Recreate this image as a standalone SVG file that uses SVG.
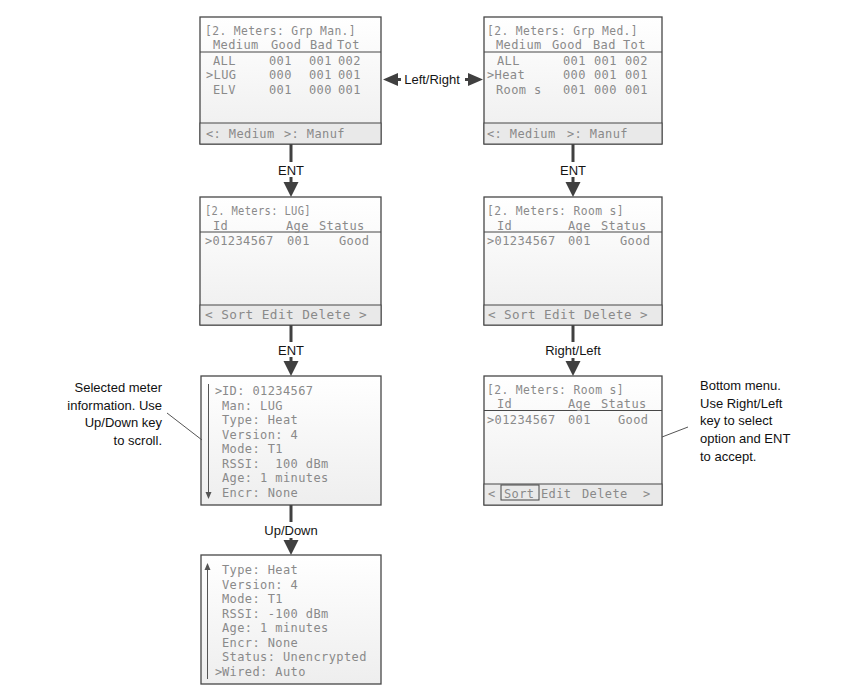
<svg xmlns="http://www.w3.org/2000/svg" width="856" height="697" viewBox="0 0 856 697">
<defs>
<linearGradient id="lcd" x1="0" y1="0" x2="0" y2="1">
<stop offset="0" stop-color="#ffffff"/>
<stop offset="1" stop-color="#eeeeee"/>
</linearGradient>
<style>
.box{fill:url(#lcd);stroke:#474747;stroke-width:1.3}
.bar{fill:#e9e9e9;stroke:#474747;stroke-width:1}
.sep{stroke:#474747;stroke-width:1}
.lcd{font-family:"DejaVu Sans Mono","Liberation Mono",monospace;font-size:12px;letter-spacing:0.4px;fill:#8a8a8a}
.scroll{stroke:#555;stroke-width:1}
.ah{fill:#555}
.conn{stroke:#404040;stroke-width:3;fill:none}
.head{fill:#404040}
.lbl{font-family:"Liberation Sans",Arial,sans-serif;font-size:13px;fill:#141414;text-anchor:middle}
.lblbg{fill:#ffffff}
.note{font-family:"Liberation Sans",Arial,sans-serif;font-size:13px;fill:#111}
.leader{stroke:#555;stroke-width:1}
</style>
</defs>
<rect width="856" height="697" fill="#ffffff"/>

<g id="connectors">
<line class="conn" x1="397" y1="79.5" x2="469" y2="79.5"/>
<polygon class="head" points="383,79.5 398,73 398,86"/>
<polygon class="head" points="483,79.5 468,73 468,86"/>
<rect class="lblbg" x="401" y="71" width="64" height="17"/>
<text class="lbl" x="432" y="84">Left/Right</text>

<line class="conn" x1="291" y1="144" x2="291" y2="184"/>
<polygon class="head" points="291,197 283.5,182 298.5,182"/>
<rect class="lblbg" x="277" y="162" width="28" height="15"/>
<text class="lbl" x="291" y="174.5">ENT</text>

<line class="conn" x1="573" y1="144" x2="573" y2="184"/>
<polygon class="head" points="573,197 565.5,182 580.5,182"/>
<rect class="lblbg" x="559" y="162" width="28" height="15"/>
<text class="lbl" x="573" y="174.5">ENT</text>

<line class="conn" x1="291" y1="325" x2="291" y2="363"/>
<polygon class="head" points="291,376 283.5,361 298.5,361"/>
<rect class="lblbg" x="277" y="342" width="28" height="15"/>
<text class="lbl" x="291" y="355">ENT</text>

<line class="conn" x1="573" y1="325" x2="573" y2="363"/>
<polygon class="head" points="573,376 565.5,361 580.5,361"/>
<rect class="lblbg" x="541" y="342" width="64" height="16"/>
<text class="lbl" x="573" y="355">Right/Left</text>

<line class="conn" x1="291" y1="505" x2="291" y2="542"/>
<polygon class="head" points="291,555 283.5,540 298.5,540"/>
<rect class="lblbg" x="261" y="522" width="60" height="16"/>
<text class="lbl" x="291" y="535">Up/Down</text>
</g>

<g id="screen-grp-man">
<rect class="box" x="200" y="17" width="181" height="127"/>
<rect class="bar" x="200" y="123" width="181" height="21"/>
<line class="sep" x1="200" y1="52" x2="381" y2="52"/>
<text class="lcd" x="205" y="35" textLength="151" lengthAdjust="spacingAndGlyphs">[2. Meters: Grp Man.]</text>
<text class="lcd" y="49"><tspan x="213">Medium</tspan><tspan x="271">Good</tspan><tspan x="310">Bad</tspan><tspan x="337">Tot</tspan></text>
<text class="lcd" y="64.5"><tspan x="213">ALL</tspan><tspan x="269">001</tspan><tspan x="309">001</tspan><tspan x="338">002</tspan></text>
<text class="lcd" y="79"><tspan x="206">&gt;LUG</tspan><tspan x="269">000</tspan><tspan x="309">001</tspan><tspan x="338">001</tspan></text>
<text class="lcd" y="93.5"><tspan x="213">ELV</tspan><tspan x="269">001</tspan><tspan x="309">000</tspan><tspan x="338">001</tspan></text>
<text class="lcd" y="137.5"><tspan x="206">&lt;: Medium</tspan><tspan x="284">&gt;: Manuf</tspan></text>
</g>

<g id="screen-grp-med">
<rect class="box" x="484" y="17" width="178" height="127"/>
<rect class="bar" x="484" y="123" width="178" height="21"/>
<line class="sep" x1="484" y1="52" x2="662" y2="52"/>
<text class="lcd" x="487" y="35" textLength="151" lengthAdjust="spacingAndGlyphs">[2. Meters: Grp Med.]</text>
<text class="lcd" y="49"><tspan x="496">Medium</tspan><tspan x="552">Good</tspan><tspan x="593">Bad</tspan><tspan x="623">Tot</tspan></text>
<text class="lcd" y="64.5"><tspan x="497">ALL</tspan><tspan x="563">001</tspan><tspan x="594">001</tspan><tspan x="625">002</tspan></text>
<text class="lcd" y="79"><tspan x="487">&gt;Heat</tspan><tspan x="563">000</tspan><tspan x="594">001</tspan><tspan x="625">001</tspan></text>
<text class="lcd" y="93.5"><tspan x="496">Room s</tspan><tspan x="563">001</tspan><tspan x="594">000</tspan><tspan x="625">001</tspan></text>
<text class="lcd" y="137.5"><tspan x="487">&lt;: Medium</tspan><tspan x="567">&gt;: Manuf</tspan></text>
</g>

<g id="screen-lug">
<rect class="box" x="200" y="197" width="181" height="128"/>
<rect class="bar" x="200" y="305" width="181" height="20"/>
<line class="sep" x1="200" y1="232" x2="381" y2="232"/>
<text class="lcd" x="205" y="215" textLength="106" lengthAdjust="spacingAndGlyphs">[2. Meters: LUG]</text>
<text class="lcd" y="229.5"><tspan x="213">Id</tspan><tspan x="286">Age</tspan><tspan x="319">Status</tspan></text>
<text class="lcd" y="244.5"><tspan x="205">&gt;01234567</tspan><tspan x="287">001</tspan><tspan x="339">Good</tspan></text>
<text class="lcd" x="205" y="319" textLength="162" lengthAdjust="spacingAndGlyphs">&lt; Sort Edit Delete &gt;</text>
</g>

<g id="screen-rooms">
<rect class="box" x="484" y="197" width="178" height="128"/>
<rect class="bar" x="484" y="305" width="178" height="20"/>
<line class="sep" x1="484" y1="232" x2="662" y2="232"/>
<text class="lcd" x="487" y="215" textLength="137" lengthAdjust="spacingAndGlyphs">[2. Meters: Room s]</text>
<text class="lcd" y="229.5"><tspan x="497">Id</tspan><tspan x="568">Age</tspan><tspan x="601">Status</tspan></text>
<text class="lcd" y="244.5"><tspan x="487">&gt;01234567</tspan><tspan x="568">001</tspan><tspan x="620">Good</tspan></text>
<text class="lcd" x="488" y="319" textLength="160" lengthAdjust="spacingAndGlyphs">&lt; Sort Edit Delete &gt;</text>
</g>

<g id="screen-meter-info">
<rect class="box" x="201" y="376" width="180" height="129"/>
<line class="scroll" x1="208.5" y1="384" x2="208.5" y2="494"/>
<polygon class="ah" points="208.5,499 205.5,492 211.5,492"/>
<text class="lcd" x="215" y="395.3">&gt;</text>
<text class="lcd" x="222" y="395.3">ID: 01234567</text>
<text class="lcd" x="222" y="409.8">Man: LUG</text>
<text class="lcd" x="222" y="424.3">Type: Heat</text>
<text class="lcd" x="222" y="438.8">Version: 4</text>
<text class="lcd" x="222" y="453.3">Mode: T1</text>
<text class="lcd" x="222" y="467.8" xml:space="preserve">RSSI:  100 dBm</text>
<text class="lcd" x="222" y="482.3">Age: 1 minutes</text>
<text class="lcd" x="222" y="496.8">Encr: None</text>
</g>

<g id="screen-rooms-sort">
<rect class="box" x="484" y="376" width="178" height="129"/>
<rect class="bar" x="484" y="484" width="178" height="21"/>
<line class="sep" x1="484" y1="410.5" x2="662" y2="410.5"/>
<text class="lcd" x="487" y="393.5" textLength="137" lengthAdjust="spacingAndGlyphs">[2. Meters: Room s]</text>
<text class="lcd" y="408"><tspan x="497">Id</tspan><tspan x="568">Age</tspan><tspan x="601">Status</tspan></text>
<text class="lcd" y="423.5"><tspan x="487">&gt;01234567</tspan><tspan x="568">001</tspan><tspan x="618">Good</tspan></text>
<rect x="501" y="485" width="38" height="15" fill="none" stroke="#474747" stroke-width="1"/>
<text class="lcd" y="497.5"><tspan x="488">&lt;</tspan><tspan x="504">Sort</tspan><tspan x="541">Edit</tspan><tspan x="582">Delete</tspan><tspan x="643">&gt;</tspan></text>
</g>

<g id="screen-meter-info-2">
<rect class="box" x="201" y="555" width="180" height="129"/>
<line class="scroll" x1="207.5" y1="569" x2="207.5" y2="679"/>
<polygon class="ah" points="207.5,563 204.5,570 210.5,570"/>
<text class="lcd" x="222" y="574.3">Type: Heat</text>
<text class="lcd" x="222" y="588.8">Version: 4</text>
<text class="lcd" x="222" y="603.3">Mode: T1</text>
<text class="lcd" x="222" y="617.8">RSSI: -100 dBm</text>
<text class="lcd" x="222" y="632.3">Age: 1 minutes</text>
<text class="lcd" x="222" y="646.8">Encr: None</text>
<text class="lcd" x="222" y="661.3">Status: Unencrypted</text>
<text class="lcd" x="215" y="675.8">&gt;</text>
<text class="lcd" x="222" y="675.8">Wired: Auto</text>
</g>

<g id="note-left">
<line class="leader" x1="167" y1="413" x2="202" y2="440"/>
<text class="note" text-anchor="end" x="162" y="392">Selected meter</text>
<text class="note" text-anchor="end" x="162" y="409.5">information. Use</text>
<text class="note" text-anchor="end" x="162" y="427">Up/Down key</text>
<text class="note" text-anchor="end" x="162" y="444.5">to scroll.</text>
</g>

<g id="note-right">
<line class="leader" x1="662" y1="437" x2="688" y2="427"/>
<text class="note" x="700" y="390">Bottom menu.</text>
<text class="note" x="700" y="407.5">Use Right/Left</text>
<text class="note" x="700" y="425">key to select</text>
<text class="note" x="700" y="443">option and ENT</text>
<text class="note" x="700" y="460.5">to accept.</text>
</g>
</svg>
